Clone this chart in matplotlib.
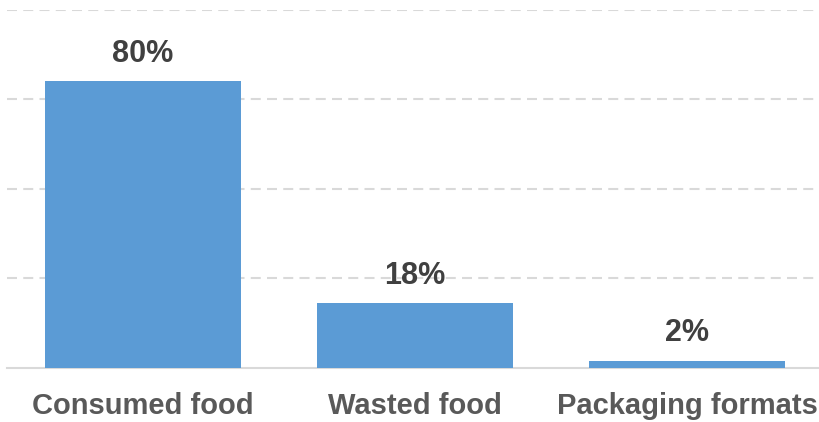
import matplotlib.pyplot as plt
import numpy as np

categories = ['Consumed food', 'Wasted food', 'Packaging formats']
shares = [80, 18, 2]
labels = ['80%', '18%', '2%']

plt.rcParams['font.family'] = ['Liberation Sans', 'DejaVu Sans']

fig = plt.figure(figsize=(8.19, 4.22), dpi=100)
ax = fig.add_axes([7/819, 54/422, 816/819, 358.5/422])

x = np.arange(len(categories))
ax.bar(x, shares, width=0.717, color='#5b9bd5', zorder=3)

# value labels above each bar
for xi, v, lab in zip(x, shares, labels):
    ax.annotate(lab, (xi, v), xytext=(0, 14), textcoords='offset points',
                ha='center', va='baseline', fontsize=22, fontweight='bold',
                color='#404040')

ax.set_xlim(-0.5, 2.5)
ax.set_ylim(0, 100)
ax.set_yticks([25, 50, 75, 100])
ax.yaxis.grid(True, color='#d9d9d9', linestyle=(0, (4.8, 3)), linewidth=1.5, zorder=0)
ax.tick_params(axis='y', left=False, labelleft=False)

ax.set_xticks(x)
ax.set_xticklabels(categories, fontsize=21, fontweight='bold', color='#595959')
ax.tick_params(axis='x', bottom=False, pad=14)

for s in ['top', 'right', 'left']:
    ax.spines[s].set_visible(False)
ax.spines['bottom'].set_color('#d9d9d9')
ax.spines['bottom'].set_linewidth(1.5)

fig.savefig('out.png', dpi=100)
